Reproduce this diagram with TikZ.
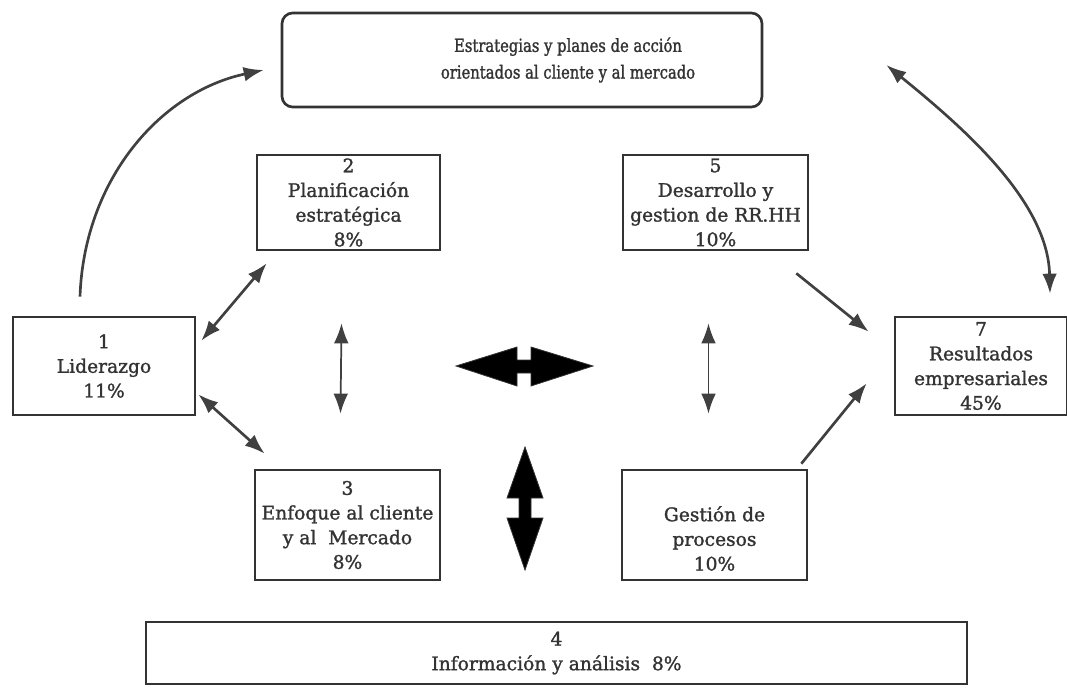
\documentclass[tikz,border=0pt]{standalone}
\usepackage{fontspec}
\setmainfont{DejaVu Serif}[FakeBold=1.4]
\newfontfamily\narrowserif{DejaVu Serif}[FakeStretch=0.82,FakeBold=1.4]
\usetikzlibrary{arrows.meta,calc}
\newdimen\px \px=0.75pt
\begin{document}
\begin{tikzpicture}[x=0.75pt,y=-0.75pt,
  box/.style={draw=black!80, line width=2pt, fill=white, align=center,
    font=\fontsize{14}{18.5}\selectfont, text=black!80, inner sep=0pt},
  conn/.style={draw=black!75, line width=2pt,
    -{Latex[length=15pt,width=11pt]}},
  dbl/.style={conn, {Latex[length=15pt,width=11pt]}-{Latex[length=15pt,width=11pt]}},
  thin dbl/.style={draw=black!75, line width=1.3pt,
    {Latex[length=15pt,width=11pt]}-{Latex[length=15pt,width=11pt]}},
  bigarrow/.style={fill=black, draw=black!80, line width=0.6pt}]
\useasboundingbox (0,0) rectangle (1067,688);

% boxes
\node[box, rounded corners=8pt, minimum width=480\px, minimum height=94\px]
      (top) at (522,60) {};
\node[align=center, font=\narrowserif\fontsize{13.5}{20}\selectfont, text=black!80]
      (toptext) at (568,60) {Estrategias y planes de acción\\orientados al cliente y al mercado};
\node[box, minimum width=182\px, minimum height=98\px] (b1) at (104,366)
      {1\\Liderazgo\\11\%};
\node[box, minimum width=183\px, minimum height=95\px] (b2) at (348.5,202.5)
      {2\\Planificación\\estratégica\\8\%};
\node[box, minimum width=185\px, minimum height=95\px] (b5) at (715.5,202.5)
      {5\\Desarrollo y\\gestion de RR.HH\\10\%};
\node[box, minimum width=172\px, minimum height=98\px] (b7) at (981,366)
      {7\\Resultados\\empresariales\\45\%};
\node[box, minimum width=185\px, minimum height=110\px] (b3) at (347.5,525)
      {3\\Enfoque al cliente\\y al~ Mercado\\8\%};
\node[box, minimum width=185\px, minimum height=110\px] (b6) at (714.5,525)
      {\strut\\Gestión de\\procesos\\10\%};
\node[box, minimum width=821\px, minimum height=62\px] (b4) at (556.5,653)
      {4\\Información y análisis~ 8\%};

% connectors between the boxes
\draw[dbl] ([shift={(5,25)}]b1.north east) -- ([shift={(11,12)}]b2.south west);
\draw[dbl] ([shift={(2,-22)}]b1.south east) -- ([shift={(11,-15)}]b3.north west);
\draw[conn] ([shift={(-13,22)}]b5.south east) -- ([shift={(-25,16)}]b7.north west);
\draw[conn] ([shift={(-7,-5)}]b6.north east) -- ([shift={(-27,-33)}]b7.south west);
\draw[thin dbl] ([shift={(-7,72)}]b2.south) -- ([shift={(-7,-55)}]b3.north);
\draw[thin dbl] ([shift={(-7,72)}]b5.south) -- ([shift={(-6,-55)}]b6.north);

% curved connectors to the strategy box
\coordinate (lt) at ([shift={(-24,-19)}]b1.north);
\coordinate (lh) at ([shift={(-17,10)}]top.west);
\draw[conn] (lt) .. controls (84,180) and (160,92) .. (lh);
\coordinate (rt) at ([shift={(123,5)}]top.east);
\coordinate (rh) at ([shift={(69,-22)}]b7.north);
\draw[dbl] (rt) .. controls (960,125) and (1048,200) .. (rh);

% large double arrows in the middle
\coordinate (hc) at (525,366);
\filldraw[bigarrow] ($(hc)+(-69,0)$) -- ($(hc)+(-8,-19)$) -- ($(hc)+(-8,-6)$)
  -- ($(hc)+(6,-6)$) -- ($(hc)+(6,-19)$) -- ($(hc)+(68,0)$) -- ($(hc)+(6,20)$)
  -- ($(hc)+(6,7)$) -- ($(hc)+(-8,7)$) -- ($(hc)+(-8,20)$) -- cycle;
\coordinate (vc) at (525,508);
\filldraw[bigarrow] ($(vc)+(0,-61)$) -- ($(vc)+(18,-10)$) -- ($(vc)+(6,-10)$)
  -- ($(vc)+(6,10)$) -- ($(vc)+(18,10)$) -- ($(vc)+(0,62)$) -- ($(vc)+(-18,10)$)
  -- ($(vc)+(-6,10)$) -- ($(vc)+(-6,-10)$) -- ($(vc)+(-18,-10)$) -- cycle;
\end{tikzpicture}
\end{document}
